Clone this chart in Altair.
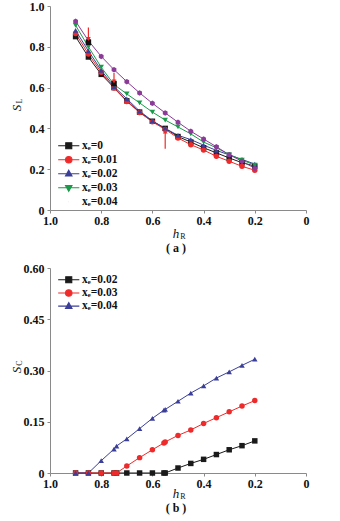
import altair as alt
import pandas as pd

FONT = "Liberation Serif"

# ---------------- panel (a) data ----------------
h_a = [0.9, 0.85, 0.8, 0.75, 0.7, 0.65, 0.6, 0.55, 0.5, 0.45, 0.4, 0.35, 0.3, 0.25, 0.2]
sl_e0 = [0.850, 0.750, 0.665, 0.600, 0.535, 0.480, 0.435, 0.400, 0.360, 0.333, 0.305, 0.280, 0.255, 0.232, 0.215]
sl_e1 = [0.865, 0.765, 0.675, 0.598, 0.532, 0.478, 0.432, 0.395, 0.353, 0.320, 0.294, 0.263, 0.239, 0.214, 0.195]
sl_e2 = [0.880, 0.780, 0.685, 0.605, 0.545, 0.485, 0.437, 0.400, 0.366, 0.345, 0.318, 0.292, 0.270, 0.248, 0.225]
sl_e3 = [0.905, 0.800, 0.700, 0.615, 0.569, 0.525, 0.480, 0.441, 0.407, 0.373, 0.333, 0.305, 0.272, 0.245, 0.220]
sl_e4 = [0.925, 0.830, 0.753, 0.688, 0.629, 0.574, 0.523, 0.476, 0.430, 0.386, 0.348, 0.310, 0.271, 0.239, 0.204]
series_a = ["xₑ=0", "xₑ=0.01", "xₑ=0.02", "xₑ=0.03", "xₑ=0.04"]
colors_a = ["#1a1a1a", "#ee2a2a", "#3b3f99", "#1b9a4a", "#8b3a98"]

extra_h = [0.85, 0.75]
extra_sl = [0.822, 0.620]

arrow_h = [0.85, 0.75, 0.55]
arrow_start = [0.895, 0.672, 0.300]
arrow_end = [0.838, 0.630, 0.385]
arrow_dir = ["triangle-down", "triangle-down", "triangle-up"]

# ---------------- panel (b) data ----------------
h_b = [0.9, 0.85, 0.8, 0.75, 0.74, 0.7, 0.65, 0.6, 0.555, 0.55, 0.5, 0.45, 0.4, 0.35, 0.3, 0.25, 0.2]
sc_e2 = [0, 0, 0, 0, 0, 0, 0, 0, 0, 0, 0.0146, 0.028, 0.040, 0.054, 0.068, 0.080, 0.094]
sc_e3 = [0, 0, 0, 0, 0, 0.0205, 0.045, 0.068, 0.088, 0.091, 0.110, 0.126, 0.145, 0.162, 0.179, 0.196, 0.212]
sc_e4 = [0, 0, 0.036, 0.070, 0.079, 0.100, 0.130, 0.160, 0.184, 0.186, 0.210, 0.234, 0.255, 0.278, 0.296, 0.315, 0.333]
series_b = ["xₑ=0.02", "xₑ=0.03", "xₑ=0.04"]
colors_b = ["#1a1a1a", "#ee2a2a", "#3b3f99"]

HEX = "M0,-1L0.87,-0.5L0.87,0.5L0,1L-0.87,0.5L-0.87,-0.5Z"
LINE = "M-2.35,0L2.35,0"
SQ = LINE + "M-0.67,-0.67L0.67,-0.67L0.67,0.67L-0.67,0.67Z"
CI = LINE + "M-0.72,0A0.72,0.72,0,1,0,0.72,0A0.72,0.72,0,1,0,-0.72,0Z"
TU = LINE + "M0,-0.78L0.72,0.5L-0.72,0.5Z"
TD = LINE + "M0,0.78L0.72,-0.5L-0.72,-0.5Z"
NONE = "M-0.01,0L0.01,0"

df_a = pd.DataFrame({
    "h": h_a * 5,
    "v": sl_e0 + sl_e1 + sl_e2 + sl_e3 + sl_e4,
    "series": sum([[s] * len(h_a) for s in series_a], []),
})
df_b = pd.DataFrame({
    "h": h_b * 3,
    "v": sc_e2 + sc_e3 + sc_e4,
    "series": sum([[s] * len(h_b) for s in series_b], []),
})
df_extra = pd.DataFrame({"h": extra_h, "v": extra_sl})
df_arrow = pd.DataFrame({"h": arrow_h, "v": arrow_start, "v2": arrow_end, "dir": arrow_dir})


def text_layer(t, x, y, size, italic=False, angle=0, weight="normal"):
    return alt.Chart(pd.DataFrame({"t": [t]})).mark_text(
        font=FONT, fontSize=size, fontStyle="italic" if italic else "normal",
        fontWeight=weight, angle=angle, align="center", baseline="middle", color="#111"
    ).encode(x=alt.value(x), y=alt.value(y), text="t:N")


def make_legend(ly, rowpad):
    return alt.Legend(
        title=None, orient="none", legendX=13, legendY=ly, padding=0,
        labelFont=FONT, labelFontSize=11.5, labelFontWeight="bold", labelColor="#111",
        labelOffset=7.5, rowPadding=rowpad, symbolStrokeWidth=1.1, symbolSize=81,
        symbolOpacity=1,
    )


def legend_layer(df, x, y, series, colors, paths, ly, rowpad):
    leg = make_legend(ly, rowpad)
    return alt.Chart(df).transform_filter("false").mark_point(filled=True, size=81).encode(
        x=x, y=y,
        fill=alt.Fill("series:N", scale=alt.Scale(domain=series, range=colors), legend=leg),
        stroke=alt.Stroke("series:N", scale=alt.Scale(domain=series, range=colors), legend=leg),
        shape=alt.Shape("series:N", scale=alt.Scale(domain=series, range=paths), legend=leg),
    )


x_enc = alt.X("h:Q", scale=alt.Scale(domain=[0, 1], reverse=True, nice=False),
              axis=alt.Axis(values=[1, 0.8, 0.6, 0.4, 0.2, 0], labelFlush=False, labelPadding=2,
                            labelExpr="datum.value == 0 ? '0' : format(datum.value, '.1f')",
                            title=None))

# ---------------- panel (a) ----------------
y_a = alt.Y("v:Q", scale=alt.Scale(domain=[0, 1], nice=False),
            axis=alt.Axis(values=[0, 0.2, 0.4, 0.6, 0.8, 1.0], labelPadding=3,
                          labelExpr="datum.value == 0 ? '0' : format(datum.value, '.1f')",
                          title=None))
col_a = alt.Scale(domain=series_a, range=colors_a)
shape_a = alt.Scale(domain=series_a, range=["square", "circle", "triangle-up", "triangle-down", HEX])

line_a = alt.Chart(df_a).mark_line(strokeWidth=1).encode(
    x=x_enc, y=y_a, color=alt.Color("series:N", scale=col_a, legend=None), detail="series:N")
pts_a = alt.Chart(df_a).mark_point(filled=True, size=30, opacity=1).encode(
    x=x_enc, y=y_a, color=alt.Color("series:N", scale=col_a, legend=None),
    shape=alt.Shape("series:N", scale=shape_a, legend=None))
extra_a = alt.Chart(df_extra).mark_point(filled=True, size=30, opacity=1, shape="square", color="#111").encode(
    x=x_enc, y=y_a)
arrow_rule = alt.Chart(df_arrow).mark_rule(color="#ee2a2a", strokeWidth=1.2).encode(
    x=x_enc, y=y_a, y2="v2:Q")
arrow_head = alt.Chart(df_arrow).mark_point(filled=True, size=22, opacity=1, color="#ee2a2a").encode(
    x=x_enc, y=alt.Y("v2:Q"), shape=alt.Shape("dir:N", scale=None))
leg_a = legend_layer(df_a, x_enc, y_a, series_a, colors_a, [SQ, CI, TU, TD, NONE], 134, 1.0)

panel_a = alt.layer(
    line_a, pts_a, extra_a, arrow_rule, arrow_head, leg_a,
    text_layer("S", -33, 102, 13, italic=True, angle=270),
    text_layer("L", -30, 95, 8, angle=270),
    text_layer("h", 126, 228, 13, italic=True),
    text_layer("R", 133, 231, 8),
    text_layer("( a )", 126, 242, 12, weight="bold"),
).resolve_scale(shape="independent", fill="independent", stroke="independent",
                color="independent").properties(width=256, height=204)

# ---------------- panel (b) ----------------
y_b = alt.Y("v:Q", scale=alt.Scale(domain=[0, 0.6], nice=False),
            axis=alt.Axis(values=[0, 0.15, 0.30, 0.45, 0.60], labelPadding=3,
                          labelExpr="datum.value == 0 ? '0' : format(datum.value, '.2f')",
                          title=None))
col_b = alt.Scale(domain=series_b, range=colors_b)
shape_b = alt.Scale(domain=series_b, range=["square", "circle", "triangle-up"])

line_b = alt.Chart(df_b).mark_line(strokeWidth=1).encode(
    x=x_enc, y=y_b, color=alt.Color("series:N", scale=col_b, legend=None), detail="series:N")
pts_b = alt.Chart(df_b).mark_point(filled=True, size=30, opacity=1).encode(
    x=x_enc, y=y_b, color=alt.Color("series:N", scale=col_b, legend=None),
    shape=alt.Shape("series:N", scale=shape_b, legend=None))
leg_b = legend_layer(df_b, x_enc, y_b, series_b, colors_b, [SQ, CI, TU], 6, 0.2)

panel_b = alt.layer(
    line_b, pts_b, leg_b,
    text_layer("S", -33, 102, 13, italic=True, angle=270),
    text_layer("C", -30, 95, 8, angle=270),
    text_layer("h", 126, 226, 13, italic=True),
    text_layer("R", 133, 229, 8),
    text_layer("( b )", 126, 240, 12, weight="bold"),
).resolve_scale(shape="independent", fill="independent", stroke="independent",
                color="independent").properties(width=256, height=205)

chart = alt.vconcat(panel_a, panel_b, spacing=8).resolve_scale(
    color="independent", shape="independent", fill="independent", stroke="independent",
    x="independent", y="independent"
).properties(padding={"left": 11, "top": 0, "right": 5, "bottom": 5}).configure_view(
    stroke=None
).configure_axis(
    grid=False, domainColor="#8a8a8a", tickColor="#8a8a8a", tickSize=3,
    labelFont=FONT, labelFontSize=12, labelFontWeight="bold", labelColor="#111",
)

chart.save("out.html", embed_options={"renderer": "svg", "actions": False})
